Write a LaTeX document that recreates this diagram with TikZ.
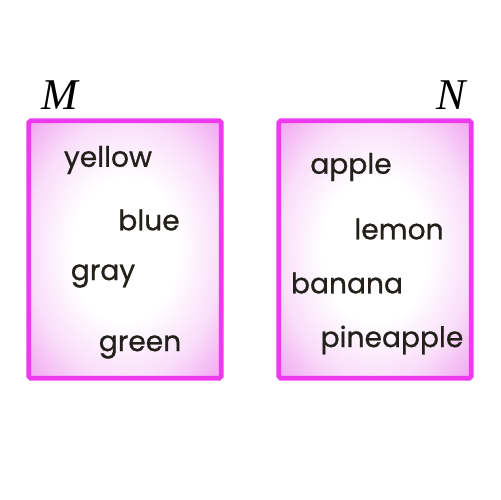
\documentclass[tikz,border=0pt]{standalone}
\usepackage{fontspec}
\newfontfamily\wordfont[FakeBold=0.8]{Poppins}
\newfontfamily\labelfont{Liberation Serif}
\definecolor{setpink}{HTML}{F0A2F0}
\definecolor{setedge}{HTML}{EE3AEE}
\definecolor{wordink}{HTML}{231F1A}
\pgfdeclareradialshading{boxglow}{\pgfpoint{0bp}{0bp}}{%
  color(0bp)=(white); color(14bp)=(white); color(25bp)=(setpink!35!white);
  color(36bp)=(setpink); color(50bp)=(setpink)}
\begin{document}
\begin{tikzpicture}[x=0.02cm, y=-0.02cm,
    setbox/.style={rectangle, draw=setedge, line width=2.6pt, rounded corners=1pt,
                   shading=boxglow, minimum width=3.85cm, minimum height=5.15cm},
    word/.style={text=wordink, font=\wordfont\fontsize{16}{19}\selectfont},
    setname/.style={font=\labelfont\itshape\fontsize{25}{28}\selectfont}
]
\useasboundingbox (0,0) rectangle (500,500);
\node[setbox] (boxM) at (125, 249.5) {};
\node[setbox] (boxN) at (375, 249.5) {};
\node[setname] (nameM) at (60, 95) {M};
\node[setname] (nameN) at (451, 95) {N};
% set M
\node[word] (yellow) at (108, 160) {yellow};
\node[word] (blue) at (149, 220) {blue};
\node[word] (gray) at (103, 276) {gray};
\node[word] (green) at (140, 347) {green};
% set N
\node[word] (apple) at (351, 167) {apple};
\node[word] (lemon) at (399, 229) {lemon};
\node[word] (banana) at (347, 283) {banana};
\node[word] (pineapple) at (392, 340) {pineapple};
\end{tikzpicture}
\end{document}
